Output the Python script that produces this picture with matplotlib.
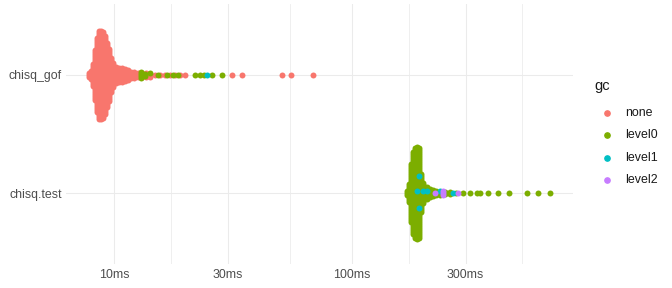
import numpy as np
import matplotlib
matplotlib.use("Agg")
import matplotlib.pyplot as plt
from matplotlib.lines import Line2D
from matplotlib.ticker import NullLocator

plt.rcParams['font.family'] = ['Liberation Sans', 'DejaVu Sans']

expressions = ["chisq.test", "chisq_gof"]
gc_levels = ["none", "level0", "level1", "level2"]
gc_colours = ["#F8766D", "#7CAE00", "#00BFC4", "#C77CFF"]

# chisq_gof timings (ms) and number of runs at each timing
gof_none_ms = [7.825, 7.979, 8.135, 8.294, 8.457, 8.622, 8.792, 8.964, 9.139, 9.318,
               9.499, 9.685, 9.875, 10.17, 10.47, 10.79, 11.09, 11.42, 11.76, 12.10,
               12.58, 13.08, 13.60, 14.13, 14.83, 15.57, 16.35, 17.16, 18.01, 18.90,
               19.84, 31.29, 34.46, 50.80, 55.43, 68.59]
gof_none_n = [3, 5, 12, 26, 38, 45, 45, 44, 40, 33,
              27, 18, 13, 9, 8, 8, 7, 6, 4, 4,
              3, 3, 3, 2, 1, 1, 1, 1, 1, 1,
              1, 1, 1, 1, 1, 1]
gof_level0_ms = [12.96, 13.46, 14.13, 15.27, 16.67, 17.66, 18.54, 21.86, 22.95, 23.85,
                 25.78, 28.40]
gof_level0_n = [4, 2, 1, 1, 1, 1, 1, 1, 1, 1, 1, 1]
gof_level1_ms = [24.56]
gof_level1_n = [1]

# chisq.test timings (ms)
test_level0_ms = [170.6, 174.0, 177.3, 180.8, 184.4, 187.9, 191.6, 195.3, 199.2, 203.1,
                  207.0, 213.2, 219.4, 225.9, 234.9, 246.5, 258.8, 274.2, 293.5, 314.1,
                  336.0, 346.0, 373.9, 412.0, 458.5, 545.8, 607.3, 682.1]
test_level0_n = [3, 10, 30, 42, 46, 46, 44, 20, 10, 7,
                 6, 5, 4, 3, 2, 2, 2, 1, 1, 1,
                 1, 1, 1, 1, 1, 1, 1, 1]
test_level1_ms = [187.9, 191.6, 199.2, 207.0, 234.9, 266.4]
test_level1_n = [1, 2, 1, 1, 1, 1]
test_level2_ms = [223.8, 241.7, 279.7]
test_level2_n = [1, 3, 1]

x_breaks = [10, 30, 100, 300]
x_labels = ["10ms", "30ms", "100ms", "300ms"]

data = {
    "chisq_gof": [("none", gof_none_ms, gof_none_n),
                  ("level0", gof_level0_ms, gof_level0_n),
                  ("level1", gof_level1_ms, gof_level1_n)],
    "chisq.test": [("level0", test_level0_ms, test_level0_n),
                   ("level1", test_level1_ms, test_level1_n),
                   ("level2", test_level2_ms, test_level2_n)],
}


def swarm(times, levels, step):
    # stack runs with the same timing into a vertical column
    offs = np.zeros(len(times))
    for t in np.unique(times):
        idx = np.where(times == t)[0]
        n = len(idx)
        slots = (np.arange(n) - (n - 1) / 2) * step
        lv = levels[idx]
        vals, cnt = np.unique(lv, return_counts=True)
        main = vals[np.argmax(cnt)]
        rare = idx[lv != main]
        m = len(rare)
        rare_slots = []
        for j in range(m):
            k = int(round((j + 1) * n / (m + 1)))
            k = min(max(k, 0), n - 1)
            while k in rare_slots:
                k = (k + 1) % n
            rare_slots.append(k)
        rest = [k for k in range(n) if k not in rare_slots]
        for i, k in zip(rare, rare_slots):
            offs[i] = slots[k]
        for i, k in zip(idx[lv == main], rest):
            offs[i] = slots[k]
    return offs


fig = plt.figure(figsize=(7, 3), dpi=96)
ax_l, ax_r, ax_b, ax_t = 66 / 672, 573.4 / 672, 1 - 264 / 288, 1 - 4 / 288
ax = fig.add_axes([ax_l, ax_b, ax_r - ax_l, ax_t - ax_b])
ylim = (0.4, 2.6)
px_per_unit = (ax_t - ax_b) * 288 / (ylim[1] - ylim[0])
step = 2.0 / px_per_unit

all_t = []
points = {lv: ([], []) for lv in gc_levels}
for yi, expr in enumerate(expressions):
    t = []
    lv = []
    for level, ms, n in data[expr]:
        t += list(np.repeat(ms, n))
        lv += [level] * int(np.sum(n))
    t = np.array(t)
    lv = np.array(lv)
    offs = swarm(t, lv, step)
    all_t += list(t)
    for level in gc_levels:
        sel = lv == level
        points[level][0].extend(t[sel])
        points[level][1].extend(yi + 1 + offs[sel])

for z, (level, col) in enumerate(zip(gc_levels, gc_colours)):
    xs, ys = points[level]
    if xs:
        ax.scatter(xs, ys, s=20, color=col, linewidths=0, zorder=3 + z)

ax.set_xscale('log')
lo, hi = np.log10(min(all_t)), np.log10(max(all_t))
pad = 0.05 * (hi - lo)
ax.set_xlim(10 ** (lo - pad), 10 ** (hi + pad))
ax.set_ylim(*ylim)

# grid like ggplot: majors at breaks, minors halfway in log space
b = list(np.log10(x_breaks))
if lo - pad < b[0]:
    b = [b[0] - (b[1] - b[0])] + b
if hi + pad > b[-1]:
    b = b + [b[-1] + (b[-1] - b[-2])]
for a, c in zip(b[:-1], b[1:]):
    mid = (a + c) / 2
    if lo - pad < mid < hi + pad:
        ax.axvline(10 ** mid, color="#EBEBEB", lw=0.6, zorder=0)
for xb in x_breaks:
    ax.axvline(xb, color="#EBEBEB", lw=0.8, zorder=0)
for yb in [1, 2]:
    ax.axhline(yb, color="#EBEBEB", lw=0.8, zorder=0)

ax.set_xticks(x_breaks)
ax.set_xticklabels(x_labels)
ax.xaxis.set_minor_locator(NullLocator())
ax.set_yticks([1, 2])
ax.set_yticklabels(expressions)
ax.tick_params(length=0, labelsize=9.3, labelcolor="#4D4D4D")
ax.tick_params(axis='x', pad=4)
ax.tick_params(axis='y', pad=3)
for s in ax.spines.values():
    s.set_visible(False)

# legend
fig.text(594 / 672, 1 - 86 / 288, "gc", fontsize=11, va='center', ha='left', color="#1A1A1A")
for i, (level, col) in enumerate(zip(gc_levels, gc_colours)):
    y = 1 - (113 + 22.3 * i) / 288
    fig.add_artist(Line2D([606.7 / 672], [y], marker='o', markersize=4, color=col,
                          linestyle='none', transform=fig.transFigure))
    fig.text(625 / 672, y, level, fontsize=9.3, va='center', ha='left', color="#1A1A1A")

fig.savefig("out.png", dpi=96)
